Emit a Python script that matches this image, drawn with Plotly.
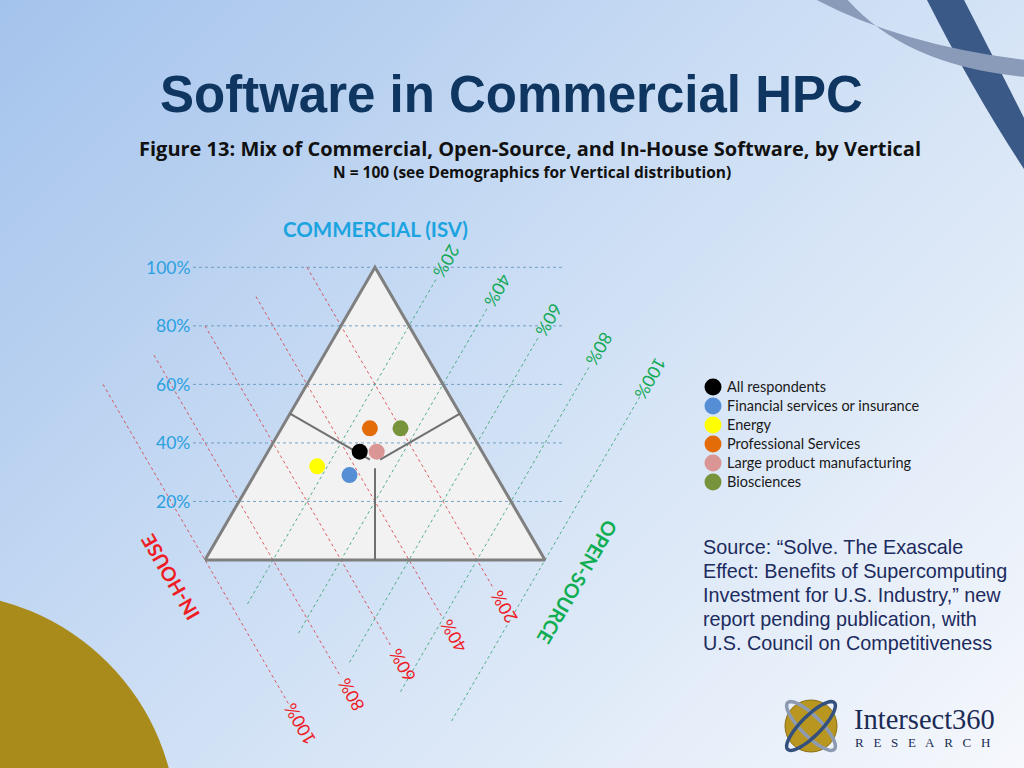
import base64
import math
import numpy as np
import plotly.graph_objects as go

W, H = 1024, 768

# ---------------- data ----------------
categories = ["All respondents", "Financial services or insurance", "Energy",
              "Professional Services", "Large product manufacturing", "Biosciences"]
commercial_pct = [37, 29, 32, 45, 37, 45]
in_house_pct = [36, 43, 51, 29, 31, 20]
open_source_pct = [27, 28, 17, 26, 32, 35]
series_colors = ["#000000", "#558ed5", "#ffff00", "#e36c09", "#d99694", "#77933c"]

grid_values = [20, 40, 60, 80, 100]
grid_labels = ["20%", "40%", "60%", "80%", "100%"]

title_text = "Software in Commercial HPC"
fig_title = "Figure 13: Mix of Commercial, Open-Source, and In-House Software, by Vertical"
fig_subtitle = "N = 100 (see Demographics for Vertical distribution)"
axis_commercial = "COMMERCIAL (ISV)"
axis_inhouse = "IN-HOUSE"
axis_open = "OPEN-SOURCE"
source_lines = ["Source: \u201cSolve. The Exascale",
                "Effect: Benefits of Supercomputing",
                "Investment for U.S. Industry,\u201d new",
                "report pending publication, with",
                "U.S. Council on Competitiveness"]

# ---------------- layout calibration (pixels) ----------------
BL_X, BR_X, BASE_Y, TOP_Y = 205.0, 545.0, 560.0, 267.3
SX = BR_X - BL_X          # px per unit x
SY = BASE_Y - TOP_Y       # px per unit commercial
x_range = [(0 - BL_X) / SX, (W - BL_X) / SX]
y_range = [(BASE_Y - H) / SY, BASE_Y / SY]


def tern(c, o):
    """ternary fractions (commercial, open) -> cartesian data coords"""
    c = np.asarray(c, dtype=float)
    o = np.asarray(o, dtype=float)
    return o + c / 2.0, c


def dx(px):  # pixel x -> data x
    return (px - BL_X) / SX


def px_(x):
    return x / W


def py_(y):
    return 1 - y / H


def P(xp, yp):
    return f"{xp / W:.5f},{1 - yp / H:.5f}"


LINE_ANGLE = math.degrees(math.atan2(SY, SX / 2.0))  # ~59.9 deg

fig = go.Figure()

# triangle fill
tx, ty = tern([0, 0, 1, 0], [0, 1, 0, 0])
fig.add_trace(go.Scatter(x=tx, y=ty, mode="lines", fill="toself", fillcolor="#f2f2f2",
                         line=dict(width=0), hoverinfo="skip"))

# commercial (horizontal) gridlines
for v in grid_values:
    c = v / 100
    fig.add_trace(go.Scatter(x=[dx(193), dx(565)], y=[c, c], mode="lines",
                             line=dict(color="#5b8fb8", width=0.8, dash="dot"), hoverinfo="skip"))

# in-house gridlines (red)
annotations = []
for v, lab in zip(grid_values, grid_labels):
    h = v / 100
    c0, c1 = 1.1 - 0.5 * h, -0.5 * h
    cs = np.array([c0, c1])
    fig.add_trace(go.Scatter(x=1 - h - cs / 2, y=cs, mode="lines",
                             line=dict(color="#d9363e", width=0.8, dash="dot"), hoverinfo="skip"))
    cl = c1 - 0.06
    annotations.append(dict(x=1 - h - cl / 2, y=cl, xref="x", yref="y", text=lab, showarrow=False,
                            textangle=-(180 - LINE_ANGLE), font=dict(family="Lato", size=17.5, color="#ee1c25"),
                            xanchor="center", yanchor="middle"))

# open-source gridlines (green)
for v, lab in zip(grid_values, grid_labels):
    o = v / 100
    c0, c1 = -0.05 - 0.5 * o, 1.06 - 0.5 * o
    cs = np.array([c0, c1])
    gx, gy = tern(cs, [o, o])
    fig.add_trace(go.Scatter(x=gx, y=gy, mode="lines",
                             line=dict(color="#2f9e6a", width=0.8, dash="dot"), hoverinfo="skip"))
    cl = c1 + 0.06
    lx, ly = tern(cl, o)
    annotations.append(dict(x=float(lx), y=float(ly), xref="x", yref="y", text=lab, showarrow=False,
                            textangle=180 - LINE_ANGLE, font=dict(family="Lato", size=17.5, color="#14a957"),
                            xanchor="center", yanchor="middle"))

# triangle outline
fig.add_trace(go.Scatter(x=tx, y=ty, mode="lines", line=dict(color="#7f7f7f", width=3),
                         hoverinfo="skip"))

# inner Y dividers (edge midpoints toward centroid)
cent = tern(1 / 3, 1 / 3)
for mc, mo in [(0.5, 0.0), (0.5, 0.5), (0.0, 0.5)]:
    mx, my = tern(mc, mo)
    f = 0.94
    fig.add_trace(go.Scatter(x=[mx, mx + f * (cent[0] - mx)], y=[my, my + f * (cent[1] - my)],
                             mode="lines", line=dict(color="#707070", width=2), hoverinfo="skip"))

# data points
for name, c, h, o, col in zip(categories, commercial_pct, in_house_pct, open_source_pct, series_colors):
    xx, yy = tern(c / 100, o / 100)
    fig.add_trace(go.Scatter(x=[float(xx)], y=[float(yy)], mode="markers", name=name,
                             marker=dict(size=16, color=col, line=dict(width=0))))

# commercial labels
for v, lab in zip(grid_values, grid_labels):
    annotations.append(dict(x=dx(192), y=v / 100, xref="x", yref="y", text=lab, showarrow=False,
                            xanchor="right", yanchor="middle",
                            font=dict(family="Lato", size=17.5, color="#2ba0e0")))

# legend on its own small axes
leg_idx = list(range(len(categories)))
fig.add_trace(go.Scatter(x=[0] * len(categories), y=leg_idx, mode="markers", xaxis="x2", yaxis="y2",
                         marker=dict(size=17, color=series_colors, line=dict(width=0)), hoverinfo="skip"))
for i, name in zip(leg_idx, categories):
    annotations.append(dict(x=0, y=i, xref="x2", yref="y2", text=name, showarrow=False,
                            xanchor="left", yanchor="middle", xshift=12,
                            font=dict(family="Lato", size=14.5, color="#1a1a1a")))

# texts
annotations += [
    dict(x=px_(511), y=py_(94), text=f"<b>{title_text}</b>",
         font=dict(family="Liberation Sans", size=51, color="#0f3660")),
    dict(x=px_(530), y=py_(148), text=f"<b>{fig_title}</b>",
         font=dict(family="Open Sans", size=20, color="#111111")),
    dict(x=px_(532), y=py_(172), text=f"<b>{fig_subtitle}</b>",
         font=dict(family="Open Sans", size=15.5, color="#111111")),
    dict(x=px_(375), y=py_(229), text=f"<b>{axis_commercial}</b>",
         font=dict(family="Lato", size=20.5, color="#1ca4e0")),
    dict(x=px_(170), y=py_(578), text=f"<b>{axis_inhouse}</b>", textangle=-(180 - LINE_ANGLE),
         font=dict(family="Lato", size=19.5, color="#ee1c25")),
    dict(x=px_(578), y=py_(582), text=f"<b>{axis_open}</b>", textangle=180 - LINE_ANGLE,
         font=dict(family="Lato", size=19.5, color="#10ae52")),
    dict(x=px_(852), y=py_(719), text="Intersect360", xanchor="left",
         font=dict(family="Liberation Serif", size=28.5, color="#1b2b55")),
    dict(x=px_(853), y=py_(742), text="R\u2002 E\u2002 S\u2002 E\u2002 A\u2002 R\u2002 C\u2002 H", xanchor="left",
         font=dict(family="Liberation Serif", size=13, color="#1b2b55")),
]
for k, line in enumerate(source_lines):
    annotations.append(dict(x=px_(701), y=py_(547 + 24 * k), text=line, xanchor="left",
                            font=dict(family="Liberation Sans", size=19.8, color="#1c2b5e")))
for a in annotations:
    a.setdefault("xref", "paper")
    a.setdefault("yref", "paper")
    a.setdefault("showarrow", False)
    a.setdefault("xanchor", "center")
    a.setdefault("yanchor", "middle")

# background gradient image
svg = ('<svg xmlns="http://www.w3.org/2000/svg" width="1024" height="768">'
       '<defs><linearGradient id="g" gradientUnits="userSpaceOnUse" x1="0" y1="0" x2="900" y2="900">'
       '<stop offset="0" stop-color="#a4c3ec"/><stop offset="0.5" stop-color="#cfe0f5"/>'
       '<stop offset="1" stop-color="#f6f8fc"/></linearGradient></defs>'
       '<rect width="1024" height="768" fill="url(#g)"/></svg>')
bg_uri = "data:image/svg+xml;base64," + base64.b64encode(svg.encode()).decode()


def ellipse_path(cx, cy, a, b, ang):
    t = np.linspace(0, 2 * np.pi, 60)
    ca, sa = math.cos(math.radians(ang)), math.sin(math.radians(ang))
    xs = cx + a * np.cos(t) * ca - b * np.sin(t) * sa
    ys = cy + a * np.cos(t) * sa + b * np.sin(t) * ca
    return "M " + " L ".join(P(x, y) for x, y in zip(xs, ys)) + " Z"


shapes = [
    # gold circle bottom-left
    dict(type="circle", xref="paper", yref="paper", x0=-297 / W, x1=177 / W,
         y0=1 - (830 + 237) / H, y1=1 - (830 - 237) / H, fillcolor="#a98b1c", line=dict(width=0), layer="below"),
    # dark arc top-right
    dict(type="path", xref="paper", yref="paper", layer="below", line=dict(width=0), fillcolor="#3b5986",
         path=f"M {P(926, -2)} Q {P(975, 95)} {P(1026, 172)} L {P(1026, 122)} Q {P(1000, 70)} {P(963, -2)} Z"),
    # light arc top-right
    dict(type="path", xref="paper", yref="paper", layer="below", line=dict(width=0), fillcolor="#8a9bb9",
         path=f"M {P(813, -2)} Q {P(900, 45)} {P(1026, 60)} L {P(1026, 77)} Q {P(905, 66)} {P(846, -2)} Z"),
    # logo sphere
    dict(type="circle", xref="paper", yref="paper", x0=785 / W, x1=837 / W, y0=1 - 752 / H, y1=1 - 700 / H,
         fillcolor="#b8961f", line=dict(width=1, color="#8a6f12")),
    dict(type="path", xref="paper", yref="paper", path=ellipse_path(811, 726, 33, 10, 45),
         line=dict(color="#8d9bb2", width=3.5), fillcolor="rgba(0,0,0,0)"),
    dict(type="path", xref="paper", yref="paper", path=ellipse_path(811, 726, 33, 10, -45),
         line=dict(color="#34507e", width=3.5), fillcolor="rgba(0,0,0,0)"),
]

leg_top, leg_bot = 387 - 9.5, 387 + 19 * 5.5
fig.update_layout(
    width=W, height=H, margin=dict(l=0, r=0, t=0, b=0),
    paper_bgcolor="#cfe0f5", plot_bgcolor="rgba(0,0,0,0)",
    showlegend=False,
    xaxis=dict(range=x_range, visible=False, domain=[0, 1]),
    yaxis=dict(range=y_range, visible=False, domain=[0, 1]),
    xaxis2=dict(range=[-13 / 260, 247 / 260], domain=[700 / W, 960 / W], visible=False, anchor="y2"),
    yaxis2=dict(range=[5.5, -0.5], domain=[1 - leg_bot / H, 1 - leg_top / H], visible=False, anchor="x2"),
    annotations=annotations,
    shapes=shapes,
    images=[dict(source=bg_uri, xref="paper", yref="paper", x=0, y=1, sizex=1, sizey=1,
                 sizing="stretch", layer="below", xanchor="left", yanchor="top")],
)

fig.write_html("out.html", config={"displayModeBar": False},
               post_script="document.body.style.margin='0';document.documentElement.style.overflow='hidden';")
